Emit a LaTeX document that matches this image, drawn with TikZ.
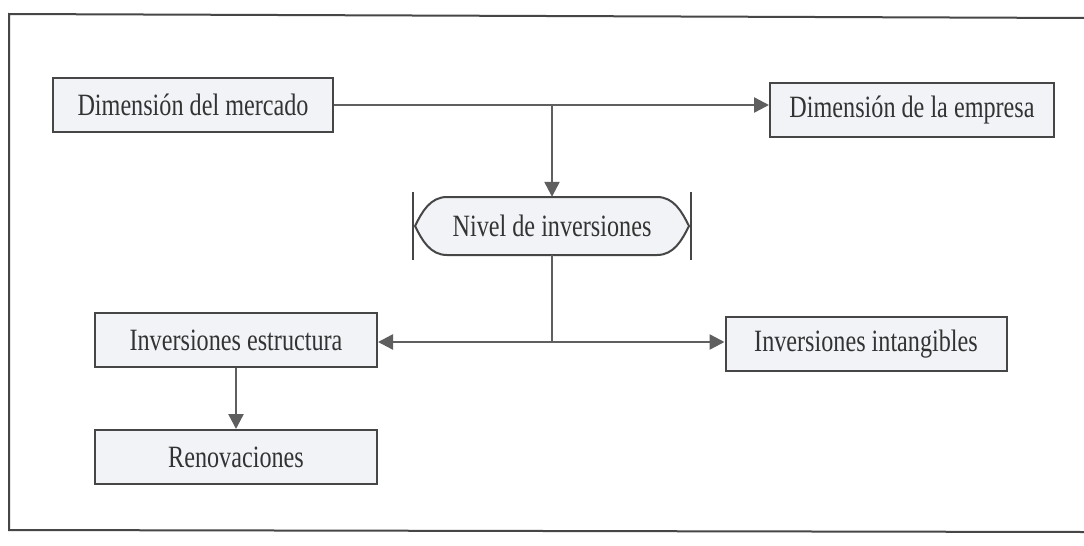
\documentclass[tikz,border=0pt]{standalone}
\usepackage{fontspec}
\setmainfont{Liberation Serif}[FakeStretch=0.78]
\usetikzlibrary{arrows.meta,calc}
\definecolor{boxfill}{RGB}{241,243,246}
\definecolor{lineg}{RGB}{95,95,95}
\definecolor{edgeg}{RGB}{70,70,70}
\begin{document}
\begin{tikzpicture}[x=1pt,y=-1pt,
  box/.style={draw=edgeg,line width=2pt,fill=boxfill,minimum height=54pt,inner sep=0pt,
    font=\fontsize{31}{34}\selectfont,text=black!80},
  conn/.style={draw=lineg,line width=2.4pt},
  arr/.style={conn,-{Triangle[length=15pt,width=15pt]}}]
\useasboundingbox (0,0) rectangle (1084,546);
\fill[white] (0,0) rectangle (1084,546);
% frame
\draw[edgeg,line width=2pt] (1084,18) -- (9,14) -- (9,530) -- (1084,532);
% nodes
\node[box,minimum width=280pt] (merc) at (193,105) {Dimensi\'on del mercado};
\node[box,minimum width=284pt] (emp) at (912,110) {Dimensi\'on de la empresa};
\node[minimum width=240pt,minimum height=58pt,inner sep=0pt,
  font=\fontsize{31}{34}\selectfont,text=black!80] (niv) at (552,226) {};
\draw[edgeg,line width=2pt,fill=boxfill]
  ($(niv.center)+(-105,-29)$) -- ($(niv.center)+(105,-29)$)
  .. controls ($(niv.center)+(122,-29)$) and ($(niv.center)+(130,-14)$) .. ($(niv.center)+(137,0)$)
  .. controls ($(niv.center)+(130,14)$) and ($(niv.center)+(122,29)$) .. ($(niv.center)+(105,29)$)
  -- ($(niv.center)+(-105,29)$)
  .. controls ($(niv.center)+(-122,29)$) and ($(niv.center)+(-130,14)$) .. ($(niv.center)+(-137,0)$)
  .. controls ($(niv.center)+(-130,-14)$) and ($(niv.center)+(-122,-29)$) .. ($(niv.center)+(-105,-29)$) -- cycle;
\draw[edgeg,line width=2pt] ($(niv.center)+(-139,-34)$) -- ($(niv.center)+(-139,34)$);
\draw[edgeg,line width=2pt] ($(niv.center)+(139,-34)$) -- ($(niv.center)+(139,34)$);
\node[font=\fontsize{31}{34}\selectfont,text=black!80] (nivt) at (niv.center) {Nivel de inversiones};
\node[box,minimum width=282pt] (est) at (236,340) {Inversiones estructura};
\node[box,minimum width=281pt] (intg) at (866,344) {Inversiones intangibles};
\node[box,minimum width=282pt] (ren) at (236,457) {Renovaciones};
% connectors
\coordinate (j1) at (552,105);
\coordinate (j2) at (552,342);
\draw[arr] (merc.east) -- (merc.east -| emp.west);
\draw[arr] (j1) -- (niv.north);
\draw[conn] (niv.south) -- (j2);
\draw[arr] (j2) -- (j2 -| est.east);
\draw[arr] (j2) -- (j2 -| intg.west);
\draw[arr] (est.south) -- (ren.north);
\end{tikzpicture}
\end{document}
